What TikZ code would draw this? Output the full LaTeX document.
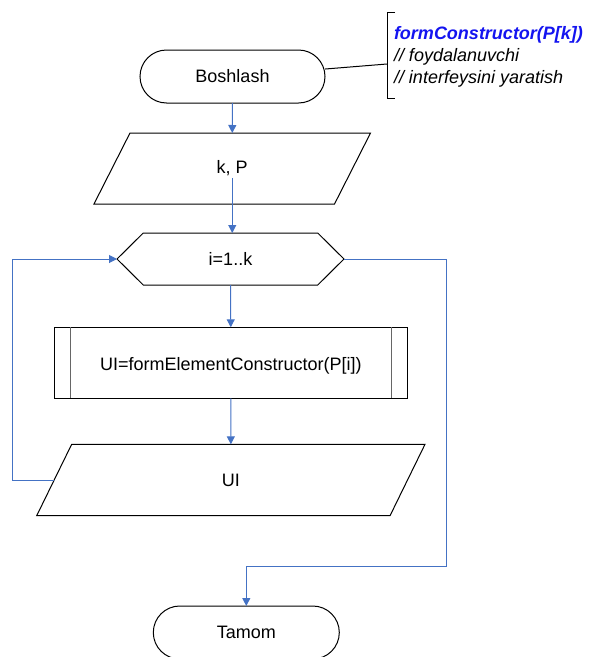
\documentclass[tikz,border=0pt]{standalone}
\usepackage{fontspec}
\setmainfont{Liberation Sans}
\usetikzlibrary{arrows.meta,calc}
\definecolor{flow}{HTML}{4472C4}
\definecolor{note}{RGB}{20,20,240}

\begin{document}
\begin{tikzpicture}[x=0.75pt,y=-0.75pt,
  every node/.style={font=\fontsize{13.5}{16.5}\selectfont, inner sep=0pt, outer sep=0pt},
  outline/.style={draw=black, line width=0.75pt},
  terminal/.style={outline, rounded corners=19.875pt, minimum height=39.75pt},
  flowline/.style={draw=flow, line width=0.75pt},
  flowarrow/.style={flowline, -{Triangle[length=6pt,width=6pt]}},
]
\useasboundingbox (0,0) rectangle (590,657);
\clip (0,0) rectangle (590,657);

% start terminal
\node[terminal, minimum width=138.75pt] (bosh) at (232.5,76.5) {Boshlash};

% comment bracket with its text
\draw[outline] (395,12) -- (387,12) -- (387,98) -- (395,98);
\coordinate (brk) at (387,64);
\node[anchor=west, align=left] (note) at (394,57)
  {{\color{note}\bfseries\itshape formConstructor(P[k])}\\
   \itshape // foydalanuvchi\\
   \itshape // interfeysini yaratish};
\draw[outline] ([yshift=5.6pt]bosh.east) -- (brk);

% input k, P
\node[minimum width=180.4pt, minimum height=53.25pt] (kp) at (232.25,168.5) {k, P};
\draw[outline] ([xshift=13.5pt]kp.north west) -- ([xshift=13.5pt]kp.north east)
  -- ([xshift=-13.5pt]kp.south east) -- ([xshift=-13.5pt]kp.south west) -- cycle;

% loop header
\node[minimum width=170.25pt, minimum height=39pt] (hex) at (230.5,259) {i=1..k};
\draw[outline] (hex.west) -- ([xshift=19.7pt]hex.north west) -- ([xshift=-19.7pt]hex.north east)
  -- (hex.east) -- ([xshift=-19.7pt]hex.south east) -- ([xshift=19.7pt]hex.south west) -- cycle;

% predefined process
\node[outline, minimum width=264.75pt, minimum height=53.25pt] (box) at (230.8,362.8) {};
\node (boxtxt) at ([yshift=-2.5pt]box.center) {UI=formElementConstructor(P[i])};
\draw[draw=black!60, line width=0.75pt] ([xshift=11.8pt]box.north west) -- ([xshift=11.8pt]box.south west);
\draw[draw=black!60, line width=0.75pt] ([xshift=-11.8pt]box.north east) -- ([xshift=-11.8pt]box.south east);

% output UI
\node[minimum width=265pt, minimum height=53.5pt] (ui) at (230.85,480) {UI};
\draw[outline] ([xshift=13.1pt]ui.north west) -- ([xshift=13.1pt]ui.north east)
  -- ([xshift=-13.1pt]ui.south east) -- ([xshift=-13.1pt]ui.south west) -- cycle;

% end terminal
\node[terminal, minimum width=139.5pt] (tam) at (246.3,632.5) {Tamom};

% connectors
\coordinate (loopL) at (12.7,400);
\coordinate (exitR) at (446.7,566.7);
\draw[flowarrow] (bosh.south) -- (kp.north);
\draw[flowarrow] ([yshift=-7pt]kp.center) -- (kp.center |- hex.north);
\draw[flowarrow] (hex.south) -- (box.north);
\draw[flowarrow] (box.south) -- (ui.north);
\draw[flowarrow] (ui.west) -| (loopL) |- (hex.west);
\draw[flowarrow] (hex.east) -| (exitR) -| (tam.north);
\end{tikzpicture}
\end{document}
